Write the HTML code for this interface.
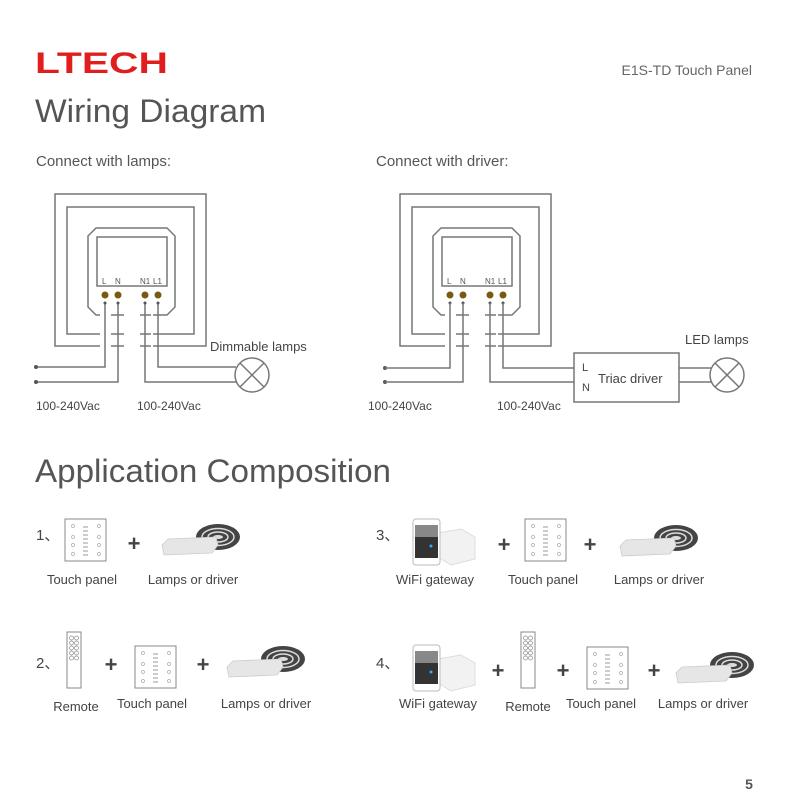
<!DOCTYPE html>
<html><head><meta charset="utf-8"><style>
html,body{margin:0;padding:0;background:#fff;}
svg{display:block;font-family:"Liberation Sans",sans-serif;}
</style></head><body>
<svg width="792" height="804" viewBox="0 0 792 804" xmlns="http://www.w3.org/2000/svg">
<defs>
  <g id="panel">
    <rect x="0" y="0" width="41" height="42" fill="#fff" stroke="#888" stroke-width="1"/>
    <g fill="none" stroke="#aaa" stroke-width="0.7">
      <circle cx="8" cy="7" r="1.5"/><circle cx="8" cy="18" r="1.5"/><circle cx="8" cy="26" r="1.5"/><circle cx="8" cy="35" r="1.5"/>
      <circle cx="34" cy="7" r="1.5"/><circle cx="34" cy="18" r="1.5"/><circle cx="34" cy="26" r="1.5"/><circle cx="34" cy="35" r="1.5"/>
    </g>
    <g stroke="#999" stroke-width="1">
      <line x1="18" y1="8" x2="23" y2="8"/><line x1="18" y1="12" x2="23" y2="12"/><line x1="18" y1="16" x2="23" y2="16"/>
      <line x1="18" y1="20" x2="23" y2="20"/><line x1="18" y1="24" x2="23" y2="24"/><line x1="18" y1="28" x2="23" y2="28"/>
      <line x1="18" y1="32" x2="23" y2="32"/><line x1="18" y1="36" x2="23" y2="36"/>
    </g>
  </g>
  <g id="lamp">
    <ellipse cx="58" cy="14" rx="22" ry="13" fill="#444"/>
    <ellipse cx="58" cy="14" rx="16" ry="8.5" fill="none" stroke="#ddd" stroke-width="1.5"/>
    <ellipse cx="58" cy="14" rx="10" ry="5" fill="none" stroke="#ddd" stroke-width="1.5"/>
    <ellipse cx="58" cy="14" rx="5" ry="2" fill="#ddd"/>
    <path d="M2 22 L8 16 L56 14 L58 22 L52 30 L4 32 Z" fill="#e6e6e6" stroke="#ccc" stroke-width="0.8"/>
  </g>
  <g id="remote">
    <rect x="0" y="0" width="14" height="56" fill="#fff" stroke="#888"/>
    <g fill="none" stroke="#888" stroke-width="0.7">
      <circle cx="4.5" cy="6" r="2"/><circle cx="9.5" cy="6" r="2"/>
      <circle cx="4.5" cy="11" r="2"/><circle cx="9.5" cy="11" r="2"/>
      <circle cx="4.5" cy="16" r="2"/><circle cx="9.5" cy="16" r="2"/>
      <circle cx="4.5" cy="21" r="2"/><circle cx="9.5" cy="21" r="2"/>
      <circle cx="4.5" cy="26" r="2"/><circle cx="9.5" cy="26" r="2"/>
    </g>
  </g>
  <g id="gateway">
    <path d="M25 14 L48 10 L62 18 L62 40 L38 46 L25 38 Z" fill="#f2f2f2" stroke="#ddd"/>
    <rect x="0" y="0" width="27" height="46" rx="3" fill="#fff" stroke="#bbb"/>
    <rect x="2" y="6" width="23" height="33" fill="#333"/>
    <rect x="2" y="6" width="23" height="12" fill="#888"/>
    <circle cx="18" cy="27" r="1.5" fill="#3af"/>
  </g>
</defs>

<!-- Header -->
<text x="35" y="73" font-size="30" font-weight="bold" fill="#e01e1e" textLength="133" lengthAdjust="spacingAndGlyphs">LTECH</text>
<text x="752" y="75" font-size="14" fill="#666" text-anchor="end">E1S-TD Touch Panel</text>
<text x="35" y="122" font-size="32" fill="#555" textLength="231" lengthAdjust="spacingAndGlyphs">Wiring Diagram</text>
<text x="36" y="166" font-size="15" fill="#555">Connect with lamps:</text>
<text x="376" y="166" font-size="15" fill="#555">Connect with driver:</text>

<!-- Left wiring -->
<g fill="none" stroke="#777" stroke-width="1.5">
  <rect x="55" y="194" width="151" height="152"/>
  <rect x="67" y="207" width="127" height="127"/>
  <path d="M96 228 L167 228 L175 236 L175 307 L167 315 L96 315 L88 307 L88 236 Z" fill="#fff"/>
  <rect x="97" y="237" width="70" height="49"/>
</g>
<g stroke="#fff" stroke-width="4">
  <line x1="100" y1="315" x2="111" y2="315"/><line x1="124" y1="315" x2="140" y2="315"/><line x1="151" y1="315" x2="153" y2="315"/>
  <line x1="100" y1="334" x2="111" y2="334"/><line x1="124" y1="334" x2="140" y2="334"/><line x1="151" y1="334" x2="153" y2="334"/>
  <line x1="100" y1="346" x2="111" y2="346"/><line x1="124" y1="346" x2="140" y2="346"/><line x1="151" y1="346" x2="153" y2="346"/>
</g>
<g fill="#555" font-size="8">
  <text x="102" y="284">L</text><text x="115" y="284">N</text><text x="140" y="284">N1</text><text x="153" y="284">L1</text>
</g>
<g fill="#7a5a10"><circle cx="105" cy="295" r="3.5"/><circle cx="118" cy="295" r="3.5"/><circle cx="145" cy="295" r="3.5"/><circle cx="158" cy="295" r="3.5"/></g>
<g fill="none" stroke="#777" stroke-width="1.5">
  <path d="M105 303 V367 H36"/><path d="M118 303 V382 H36"/>
  <path d="M145 303 V382 H236"/><path d="M158 303 V367 H236"/>
  <circle cx="252" cy="375" r="17" fill="#fff"/>
  <line x1="240" y1="363" x2="264" y2="387"/><line x1="264" y1="363" x2="240" y2="387"/>
</g>
<g fill="#555"><circle cx="36" cy="367" r="2"/><circle cx="36" cy="382" r="2"/><circle cx="105" cy="303" r="1.5"/><circle cx="118" cy="303" r="1.5"/><circle cx="145" cy="303" r="1.5"/><circle cx="158" cy="303" r="1.5"/></g>
<text x="210" y="351" font-size="13" fill="#444">Dimmable lamps</text>
<text x="36" y="410" font-size="12" fill="#444">100-240Vac</text>
<text x="137" y="410" font-size="12" fill="#444">100-240Vac</text>

<!-- Right wiring -->
<g transform="translate(345,0)">
<g fill="none" stroke="#777" stroke-width="1.5">
  <rect x="55" y="194" width="151" height="152"/>
  <rect x="67" y="207" width="127" height="127"/>
  <path d="M96 228 L167 228 L175 236 L175 307 L167 315 L96 315 L88 307 L88 236 Z" fill="#fff"/>
  <rect x="97" y="237" width="70" height="49"/>
</g>
<g stroke="#fff" stroke-width="4">
  <line x1="100" y1="315" x2="111" y2="315"/><line x1="124" y1="315" x2="140" y2="315"/><line x1="151" y1="315" x2="153" y2="315"/>
  <line x1="100" y1="334" x2="111" y2="334"/><line x1="124" y1="334" x2="140" y2="334"/><line x1="151" y1="334" x2="153" y2="334"/>
  <line x1="100" y1="346" x2="111" y2="346"/><line x1="124" y1="346" x2="140" y2="346"/><line x1="151" y1="346" x2="153" y2="346"/>
</g>
<g fill="#555" font-size="8">
  <text x="102" y="284">L</text><text x="115" y="284">N</text><text x="140" y="284">N1</text><text x="153" y="284">L1</text>
</g>
<g fill="#7a5a10"><circle cx="105" cy="295" r="3.5"/><circle cx="118" cy="295" r="3.5"/><circle cx="145" cy="295" r="3.5"/><circle cx="158" cy="295" r="3.5"/></g>
<g fill="#555"><circle cx="105" cy="303" r="1.5"/><circle cx="118" cy="303" r="1.5"/><circle cx="145" cy="303" r="1.5"/><circle cx="158" cy="303" r="1.5"/><circle cx="40" cy="368" r="2"/><circle cx="40" cy="382" r="2"/></g>
</g>
<g fill="none" stroke="#777" stroke-width="1.5">
  <path d="M450 303 V368 H385"/><path d="M463 303 V382 H385"/>
  <path d="M490 303 V382 H574"/><path d="M503 303 V368 H574"/>
  <rect x="574" y="353" width="105" height="49" fill="#fff"/>
  <path d="M679 368 H711 M679 382 H711"/>
  <circle cx="727" cy="375" r="17" fill="#fff"/>
  <line x1="715" y1="363" x2="739" y2="387"/><line x1="739" y1="363" x2="715" y2="387"/>
</g>
<text x="582" y="371" font-size="11" fill="#444">L</text>
<text x="582" y="391" font-size="11" fill="#444">N</text>
<text x="598" y="383" font-size="13" fill="#444">Triac driver</text>
<text x="685" y="344" font-size="13" fill="#444">LED lamps</text>
<text x="368" y="410" font-size="12" fill="#444">100-240Vac</text>
<text x="497" y="410" font-size="12" fill="#444">100-240Vac</text>

<!-- Application Composition -->
<text x="35" y="482" font-size="32" fill="#555" textLength="356" lengthAdjust="spacingAndGlyphs">Application Composition</text>
<g font-size="15" fill="#444">
<text x="36" y="540">1、</text>
<text x="36" y="668">2、</text>
<text x="376" y="540">3、</text>
<text x="376" y="668">4、</text>
</g>
<g font-size="22" fill="#444" font-weight="bold" text-anchor="middle">
<text x="134" y="551">+</text>
<text x="111" y="672">+</text><text x="203" y="672">+</text>
<text x="504" y="552">+</text><text x="590" y="552">+</text>
<text x="498" y="678">+</text><text x="563" y="678">+</text><text x="654" y="678">+</text>
</g>
<use href="#panel" x="65" y="519"/>
<use href="#lamp" x="160" y="523"/>
<use href="#remote" x="67" y="632"/>
<use href="#panel" x="135" y="646"/>
<use href="#lamp" x="225" y="645"/>
<use href="#gateway" x="413" y="519"/>
<use href="#panel" x="525" y="519"/>
<use href="#lamp" x="618" y="524"/>
<use href="#gateway" x="413" y="645"/>
<use href="#remote" x="521" y="632"/>
<use href="#panel" x="587" y="647"/>
<use href="#lamp" x="674" y="651"/>

<g font-size="13" fill="#444" text-anchor="middle">
<text x="82" y="584">Touch panel</text>
<text x="193" y="584">Lamps or driver</text>
<text x="76" y="711">Remote</text>
<text x="152" y="708">Touch panel</text>
<text x="266" y="708">Lamps or driver</text>
<text x="435" y="584">WiFi gateway</text>
<text x="543" y="584">Touch panel</text>
<text x="659" y="584">Lamps or driver</text>
<text x="438" y="708">WiFi gateway</text>
<text x="528" y="711">Remote</text>
<text x="601" y="708">Touch panel</text>
<text x="703" y="708">Lamps or driver</text>
</g>
<text x="749" y="789" font-size="14" font-weight="bold" fill="#555" text-anchor="middle">5</text>
</svg>
</body></html>
